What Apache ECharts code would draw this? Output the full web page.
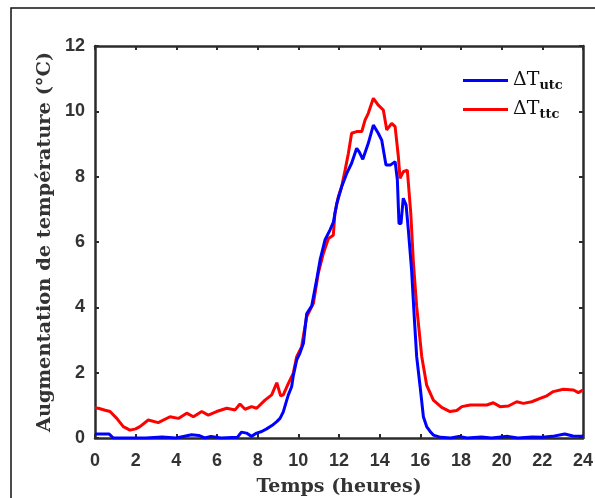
<!DOCTYPE html>
<html>
<head>
<meta charset="utf-8">
<script src="https://cdn.jsdelivr.net/npm/echarts@6/dist/echarts.min.js"></script>
<style>
html,body{margin:0;padding:0;background:#fff;}
#chart{width:595px;height:498px;}
</style>
</head>
<body>
<div id="chart"></div>
<script>
// ---- data ----
const xTicks = [0,2,4,6,8,10,12,14,16,18,20,22,24];
const yTicks = [0,2,4,6,8,10,12];

const hoursUtc = [0,0.3,0.7,0.9,1.5,2.5,3.3,4,4.75,5.1,5.4,5.7,6.2,7.0,7.2,7.45,7.7,7.95,8.2,8.44,8.7,8.94,9.1,9.26,9.43,9.51,9.67,9.75,9.92,10.08,10.25,10.41,10.66,10.9,11.07,11.31,11.56,11.72,11.89,12.13,12.38,12.62,12.87,13.0,13.17,13.44,13.69,13.93,14.1,14.31,14.54,14.76,14.87,14.95,15.05,15.16,15.3,15.41,15.57,15.71,15.82,15.99,16.15,16.31,16.48,16.64,17,17.5,17.9,18.3,19,19.5,20.3,20.8,21.5,22,22.5,23.1,23.5,24];
const deltaTutc = [0.12,0.12,0.12,0.0,0,0,0.03,0,0.1,0.08,0,0.05,0,0.02,0.18,0.15,0.05,0.15,0.2,0.28,0.38,0.5,0.6,0.8,1.16,1.32,1.57,1.9,2.39,2.6,2.9,3.8,4.05,4.84,5.45,6.06,6.37,6.6,7.18,7.69,8.1,8.41,8.87,8.75,8.53,9.02,9.58,9.33,9.12,8.36,8.36,8.46,7.9,6.57,6.57,7.34,7.13,6.37,5.14,3.61,2.49,1.57,0.65,0.35,0.2,0.09,0.02,0,0.05,0,0.03,0,0.05,0,0.03,0.02,0.05,0.12,0.06,0.05];

const hoursTtc = [0,0.16,0.5,0.74,1.07,1.39,1.72,2.0,2.21,2.62,3.11,3.69,4.1,4.51,4.84,5.25,5.57,5.98,6.48,6.89,7.13,7.38,7.7,7.95,8.36,8.69,8.94,9.13,9.26,9.51,9.75,9.92,10.16,10.41,10.74,10.98,11.23,11.48,11.72,11.8,11.97,12.13,12.3,12.46,12.62,12.87,13.12,13.28,13.44,13.69,13.93,14.18,14.35,14.59,14.76,14.92,15.0,15.16,15.36,15.53,15.66,15.82,16.07,16.31,16.64,17.05,17.46,17.79,18.04,18.45,18.85,19.27,19.59,19.92,20.33,20.74,21.07,21.48,21.89,22.22,22.54,23.03,23.53,23.77,24];
const deltaTttc = [0.92,0.91,0.85,0.81,0.6,0.35,0.24,0.28,0.35,0.55,0.47,0.65,0.6,0.76,0.65,0.81,0.7,0.81,0.91,0.86,1.04,0.88,0.96,0.91,1.16,1.32,1.69,1.29,1.32,1.67,1.98,2.49,2.79,3.71,4.12,5.04,5.65,6.11,6.21,6.88,7.39,7.69,8.2,8.71,9.33,9.38,9.38,9.73,9.94,10.4,10.19,10.04,9.43,9.63,9.53,8.61,7.95,8.15,8.2,6.88,5.35,4.02,2.49,1.62,1.16,0.94,0.81,0.84,0.96,1.01,1.01,1.01,1.08,0.96,0.98,1.11,1.06,1.11,1.21,1.29,1.42,1.49,1.47,1.39,1.47];

const seriesNames = ['utc','ttc'];
const xTitle = 'Temps (heures)';
const yTitle = 'Augmentation de température (°C)';

// ---- chart ----
const chart = echarts.init(document.getElementById('chart'), null, {renderer:'canvas'});
const pair = (xs, ys) => xs.map((x,i)=>[x, ys[i]]);
const axisColor = '#2b2b2b';
const tickLabelFont = {fontFamily:'Liberation Sans, Arial, sans-serif', fontWeight:'bold', fontSize:18, color:'#333'};
const serifBoldX = {fontFamily:'DejaVu Serif, serif', fontWeight:'bold', fontSize:19, color:'#333'};
const serifBoldY = {fontFamily:'DejaVu Serif, serif', fontWeight:'bold', fontSize:19.4, color:'#333'};

const option = {
  animation:false,
  backgroundColor:'#fff',
  graphic:[{type:'rect', shape:{x:11, y:8, width:700, height:600}, style:{fill:'none', stroke:'#111', lineWidth:1.5}, z:-1}],
  grid:{left:95, right:12, top:46, bottom:60, containLabel:false, outerBoundsMode:'none'},
  legend:{
    left:458, top:64, orient:'vertical', itemGap:6, padding:5,
    icon:'rect', itemWidth:45, itemHeight:3,
    data:seriesNames.map(n=>'ΔT_'+n),
    formatter:(name)=>'{a|ΔT}{b|'+name.split('_')[1]+'}',
    textStyle:{
      padding:[0,0,0,0],
      rich:{
        a:{fontFamily:'DejaVu Serif, serif', fontSize:19, color:'#111', lineHeight:22},
        b:{fontFamily:'DejaVu Serif, serif', fontWeight:'bold', fontSize:13, color:'#111', padding:[10,0,0,0], lineHeight:22}
      }
    }
  },
  xAxis:[{
    type:'value', min:0, max:24, interval:2, position:'bottom',
    name:xTitle, nameLocation:'middle', nameGap:40, nameTextStyle:serifBoldX,
    axisLine:{show:true, onZero:false, lineStyle:{color:axisColor, width:2.5}},
    axisTick:{show:true, inside:true, length:4, lineStyle:{color:axisColor, width:2}},
    axisLabel:Object.assign({margin:14, formatter:(v)=>xTicks.includes(v)?String(v):''}, tickLabelFont),
    splitLine:{show:false}
  },{
    type:'value', min:0, max:24, interval:2, position:'top',
    axisLine:{show:true, onZero:false, lineStyle:{color:axisColor, width:2.5}},
    axisTick:{show:true, inside:true, length:4, lineStyle:{color:axisColor, width:2}},
    axisLabel:{show:false}, splitLine:{show:false}
  }],
  yAxis:[{
    type:'value', min:0, max:12, interval:2, position:'left',
    name:yTitle, nameLocation:'middle', nameGap:38, nameRotate:90, nameTextStyle:serifBoldY,
    axisLine:{show:true, onZero:false, lineStyle:{color:axisColor, width:2.5}},
    axisTick:{show:true, inside:true, length:4, lineStyle:{color:axisColor, width:2}},
    axisLabel:Object.assign({margin:10, formatter:(v)=>yTicks.includes(v)?String(v):''}, tickLabelFont),
    splitLine:{show:false}
  },{
    type:'value', min:0, max:12, interval:2, position:'right',
    axisLine:{show:true, onZero:false, lineStyle:{color:axisColor, width:2.5}},
    axisTick:{show:true, inside:true, length:4, lineStyle:{color:axisColor, width:2}},
    axisLabel:{show:false}, splitLine:{show:false}
  }],
  series:[
    {name:'ΔT_utc', type:'line', data:pair(hoursUtc, deltaTutc), showSymbol:false, symbol:'none',
     lineStyle:{color:'#0000ff', width:3}, itemStyle:{color:'#0000ff'}, z:3},
    {name:'ΔT_ttc', type:'line', data:pair(hoursTtc, deltaTttc), showSymbol:false, symbol:'none',
     lineStyle:{color:'#ff0000', width:3}, itemStyle:{color:'#ff0000'}, z:2}
  ]
};
chart.setOption(option);
</script>
</body>
</html>
